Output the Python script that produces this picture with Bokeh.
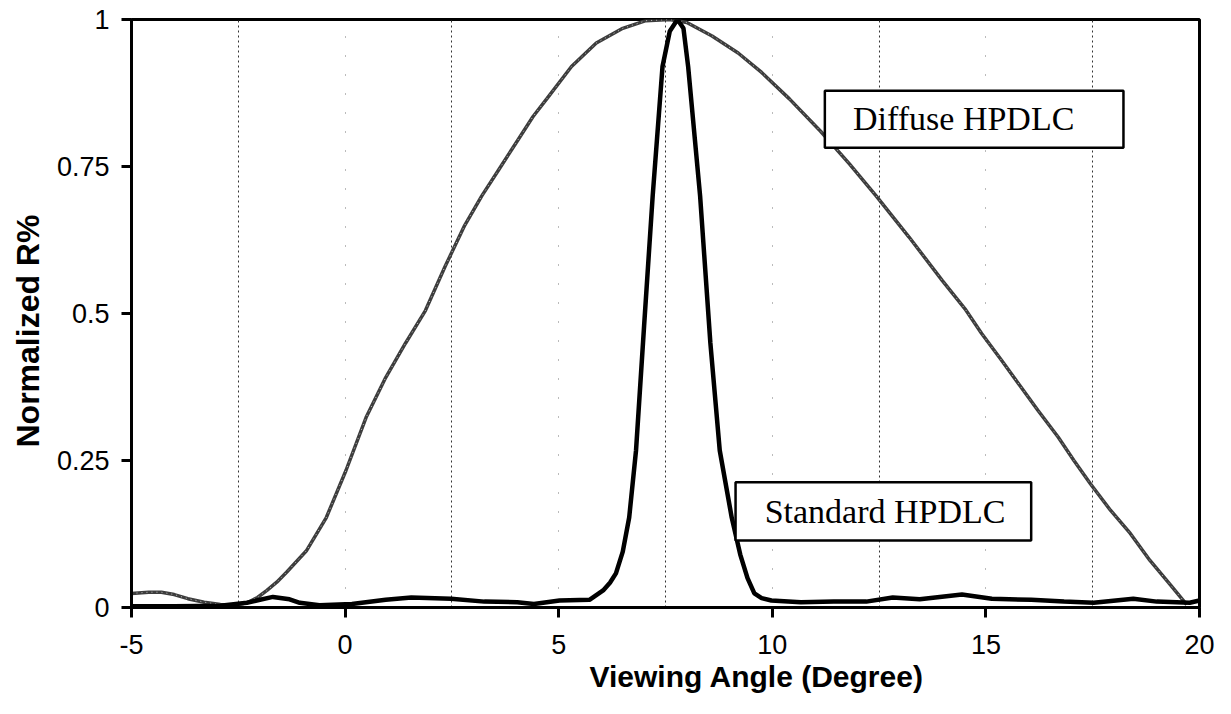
from bokeh.plotting import figure
from bokeh.models import Range1d, FixedTicker, Grid, BoxAnnotation, Label, Title
from bokeh.embed import file_html
from bokeh.resources import INLINE

# ---- data ----
diffuse_x = [-5.0, -4.6, -4.3, -4.0, -3.68, -3.3, -2.92, -2.6, -2.29, -2.05, -1.83, -1.6,
             -1.37, -0.9, -0.44, 0.02, 0.49, 0.95, 1.41, 1.88, 2.34, 2.8, 3.2, 3.6, 4.0,
             4.4, 4.72, 5.3, 5.88, 6.5, 7.04, 7.6, 8.0, 8.59, 9.2, 9.75, 10.4, 11.13,
             11.8, 12.43, 13.2, 13.98, 14.51, 14.9, 15.37, 15.79, 16.22, 16.69, 17.06,
             17.45, 17.92, 18.38, 18.84, 19.3, 19.7]
diffuse_y = [0.024, 0.026, 0.026, 0.022, 0.015, 0.009, 0.005, 0.004, 0.008, 0.017, 0.029, 0.043,
             0.06, 0.097, 0.153, 0.233, 0.323, 0.391, 0.449, 0.505, 0.58, 0.65, 0.70, 0.745, 0.79,
             0.835, 0.865, 0.92, 0.96, 0.985, 0.998, 1.0, 0.995, 0.972, 0.943, 0.91, 0.865, 0.81,
             0.755, 0.70, 0.63, 0.556, 0.508, 0.466, 0.42, 0.378, 0.335, 0.29, 0.25,
             0.21, 0.165, 0.126, 0.08, 0.04, 0.005]

standard_x = [-5.0, -4.0, -2.92, -2.3, -1.69, -1.3, -1.06, -0.6, 0.16, 0.95, 1.55, 2.48, 3.26,
              4.03, 4.42, 5.02, 5.72, 6.04, 6.2, 6.34, 6.5, 6.65, 6.81, 7.0, 7.2, 7.43, 7.6, 7.78,
              7.92, 8.03, 8.31, 8.55, 8.77, 9.05, 9.25, 9.42, 9.58, 9.75, 9.98, 10.67, 11.44, 12.2,
              12.82, 13.45, 14.44, 15.14, 16.06, 16.83, 17.52, 18.45, 19.0, 19.77, 20.0]
standard_y = [0.002, 0.002, 0.003, 0.008, 0.018, 0.014, 0.008, 0.004, 0.006, 0.013, 0.017, 0.015, 0.01,
              0.009, 0.006, 0.012, 0.013, 0.029, 0.042, 0.058, 0.095, 0.153, 0.267, 0.48, 0.70, 0.92,
              0.98, 1.0, 0.985, 0.92, 0.70, 0.45, 0.267, 0.153, 0.09, 0.05, 0.024, 0.016, 0.012, 0.009,
              0.01, 0.01, 0.017, 0.014, 0.022, 0.015, 0.013, 0.01, 0.008, 0.015, 0.01, 0.008, 0.012]

x_ticks = [-5, 0, 5, 10, 15, 20]
x_tick_labels = ["-5", "0", "5", "10", "15", "20"]
y_ticks = [0, 0.25, 0.5, 0.75, 1]
y_tick_labels = ["0", "0.25", "0.5", "0.75", "1"]
grid_major = [-2.5, 2.5, 7.5, 12.5, 17.5]
grid_faint = [0, 5, 10, 15]

label_diffuse = "Diffuse HPDLC"
label_standard = "Standard HPDLC"
x_title = "Viewing Angle (Degree)"
y_title = "Normalized R%"

p = figure(width=1215, height=698, output_backend="svg", toolbar_location=None,
           x_range=Range1d(-5, 20), y_range=Range1d(0, 1),
           min_border_left=130, min_border_right=16, min_border_top=19, min_border_bottom=91)
p.background_fill_color = "white"
p.border_fill_color = "white"
p.outline_line_color = "black"
p.outline_line_width = 3

# grids
p.ygrid.visible = False
p.xgrid.ticker = FixedTicker(ticks=grid_major)
p.xgrid.grid_line_color = "#333333"
p.xgrid.grid_line_width = 1
p.xgrid.grid_line_dash = "2 3"
p.add_layout(Grid(dimension=0, ticker=FixedTicker(ticks=grid_faint), grid_line_color="#777777",
                  grid_line_width=1, grid_line_dash="1 18"))

# axes
for ax in (p.xaxis[0], p.yaxis[0]):
    ax.axis_line_width = 3
    ax.axis_line_color = "black"
    ax.major_tick_line_width = 3
    ax.major_tick_line_color = "black"
    ax.major_tick_out = 10
    ax.major_tick_in = 0
    ax.minor_tick_line_color = None
    ax.major_label_text_font = "Liberation Sans"
    ax.major_label_text_font_size = "27px"
    ax.major_label_text_color = "black"

p.xaxis.ticker = FixedTicker(ticks=x_ticks)
p.yaxis.ticker = FixedTicker(ticks=y_ticks)
p.xaxis.major_label_overrides = {t: s for t, s in zip(x_ticks, x_tick_labels)}
p.yaxis.major_label_overrides = {t: s for t, s in zip(y_ticks, y_tick_labels)}
p.xaxis.major_label_standoff = 17
p.yaxis.major_label_standoff = 12

# axis titles as side titles (the reference's x title sits right of centre)
p.add_layout(Title(text=x_title, align="left", offset=458, standoff=3,
                   text_font="Liberation Sans", text_font_style="bold", text_font_size="30px",
                   text_color="black"), "below")
p.add_layout(Title(text=y_title, align="left", offset=160, standoff=15,
                   text_font="Liberation Sans", text_font_style="bold", text_font_size="32px",
                   text_color="black"), "left")

# curves
p.line(diffuse_x, diffuse_y, line_color="#3d3d3d", line_width=3.5)
p.line(diffuse_x, diffuse_y, line_color="white", line_width=1, line_dash="1 4", line_alpha=0.7)
p.line(standard_x, standard_y, line_color="black", line_width=4.5)

# annotation boxes
p.add_layout(BoxAnnotation(left=11.23, right=18.22, bottom=0.782, top=0.879,
                           fill_color="white", fill_alpha=1.0, line_color="black",
                           line_alpha=1.0, line_width=2.5))
p.add_layout(Label(x=14.48, y=0.831, text=label_diffuse, text_align="center", text_baseline="middle",
                   text_font="Liberation Serif", text_font_size="34px", text_color="black"))
p.add_layout(BoxAnnotation(left=9.14, right=16.06, bottom=0.114, top=0.213,
                           fill_color="white", fill_alpha=1.0, line_color="black",
                           line_alpha=1.0, line_width=2.5))
p.add_layout(Label(x=12.64, y=0.163, text=label_standard, text_align="center", text_baseline="middle",
                   text_font="Liberation Serif", text_font_size="34px", text_color="black"))

open("out.html", "w").write(file_html(p, INLINE))
